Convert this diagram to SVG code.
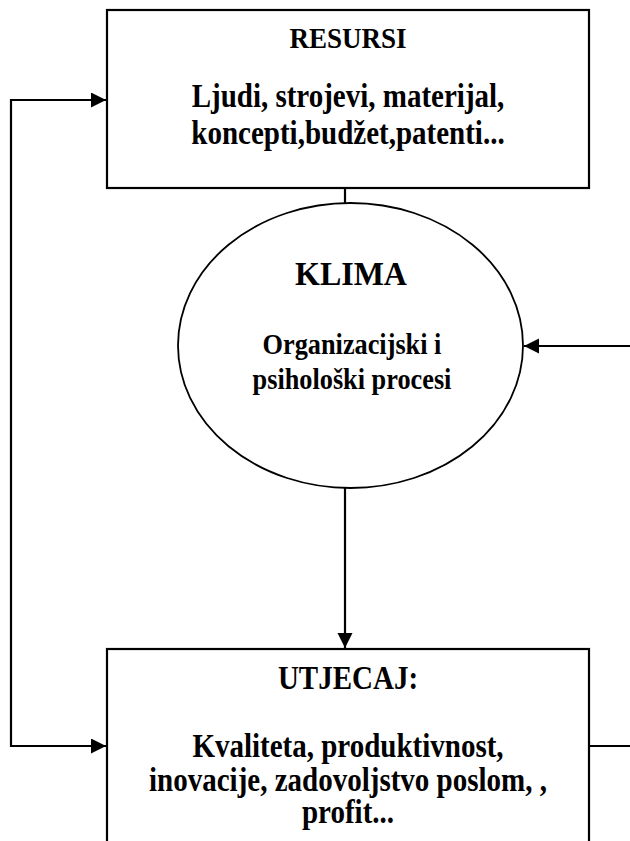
<svg xmlns="http://www.w3.org/2000/svg" width="630" height="841" viewBox="0 0 630 841">
<style>
  .box { fill: #ffffff; stroke: #000000; stroke-width: 2.2; }
  .ell { fill: #ffffff; stroke: #000000; stroke-width: 1.8; }
  .conn { fill: none; stroke: #000000; stroke-width: 2.2; }
  text { font-family: "Liberation Serif", "Times New Roman", serif; font-weight: bold; fill: #000000; text-anchor: middle; }
  .t1 { font-size: 27px; }
  .t2 { font-size: 29px; }
  .t3 { font-size: 32px; }
  .t4 { font-size: 26.3px; }
</style>
<defs>
  <marker id="arrow" markerUnits="userSpaceOnUse" markerWidth="16" markerHeight="16" refX="15" refY="7.5" orient="auto-start-reverse">
    <path d="M0,0 L15,7.5 L0,15 Z" fill="#000000"/>
  </marker>
</defs>
<rect width="630" height="841" fill="#ffffff"/>
<g id="connectors">
  <line class="conn" x1="345" y1="188" x2="345" y2="203"/>
  <line class="conn" x1="345" y1="488" x2="345" y2="648" marker-end="url(#arrow)"/>
  <line class="conn" x1="630" y1="346" x2="524" y2="346" marker-end="url(#arrow)"/>
  <line class="conn" x1="589" y1="746" x2="630" y2="746"/>
  <polyline class="conn" points="106,100 11,100 11,746 106,746" marker-start="url(#arrow)" marker-end="url(#arrow)"/>
</g>
<g id="resursi">
  <rect class="box" x="107" y="10" width="482" height="178"/>
  <text class="t1" x="348" y="0" transform="matrix(1 0 0 1.13 0 48)">RESURSI</text>
  <text class="t2" x="348" y="0" transform="matrix(1 0 0 1.13 0 107)">Ljudi, strojevi, materijal,</text>
  <text class="t2" x="348" y="0" transform="matrix(1 0 0 1.13 0 144)">koncepti,budžet,patenti...</text>
</g>
<g id="klima">
  <ellipse class="ell" cx="350.5" cy="345.5" rx="172.5" ry="142.5"/>
  <text class="t3" x="351" y="0" transform="matrix(1 0 0 1.08 0 285)">KLIMA</text>
  <text class="t4" x="352" y="0" transform="matrix(1 0 0 1.1 0 354)">Organizacijski i</text>
  <text class="t4" x="352" y="0" transform="matrix(1 0 0 1.1 0 389)">psihološki procesi</text>
</g>
<g id="utjecaj">
  <rect class="box" x="107" y="649" width="482" height="200"/>
  <text class="t2" x="348" y="0" transform="matrix(1 0 0 1.13 0 689)">UTJECAJ:</text>
  <text class="t2" x="348" y="0" transform="matrix(1 0 0 1.13 0 757)">Kvaliteta, produktivnost,</text>
  <text class="t2" x="348" y="0" transform="matrix(1 0 0 1.13 0 791)">inovacije, zadovoljstvo poslom, ,</text>
  <text class="t2" x="348" y="0" transform="matrix(1 0 0 1.13 0 823)">profit...</text>
</g>
</svg>
